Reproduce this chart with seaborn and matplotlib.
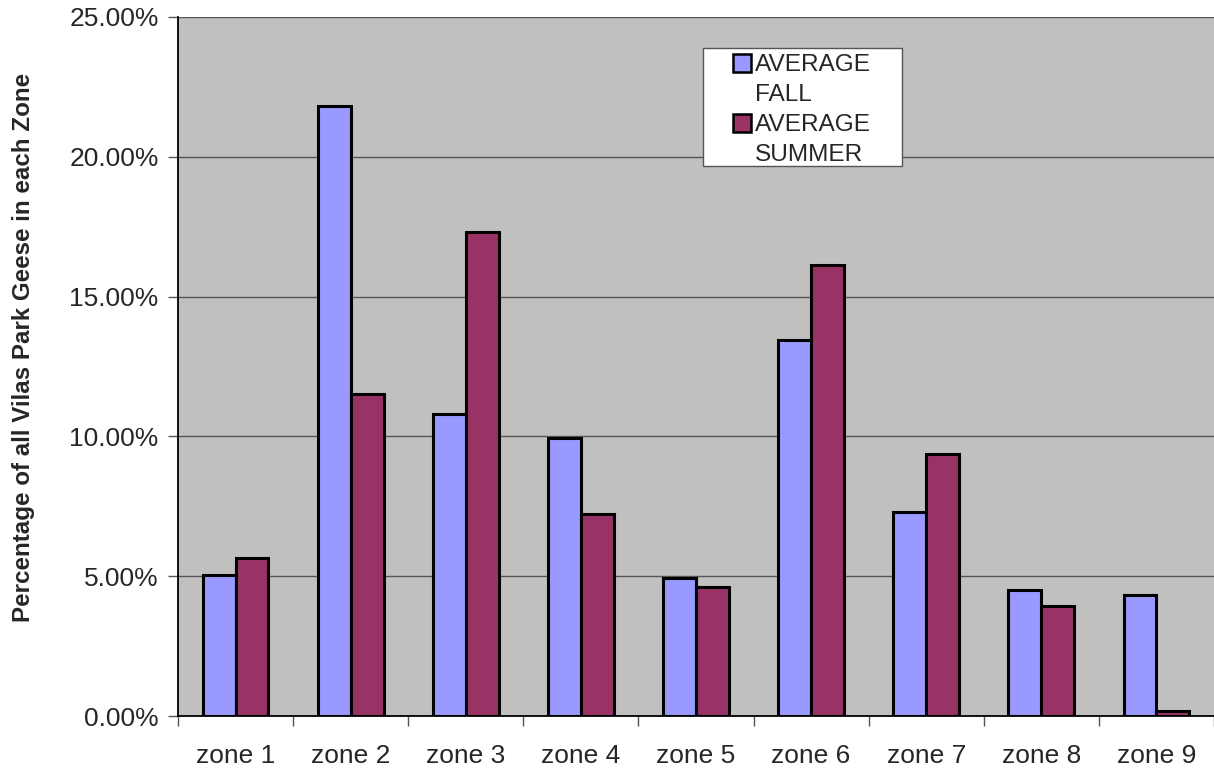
import matplotlib
matplotlib.use("Agg")
import matplotlib.pyplot as plt
import seaborn as sns
import pandas as pd
import numpy as np
from matplotlib.ticker import FuncFormatter, MultipleLocator
from matplotlib.patches import Patch, Rectangle

zones = ["zone 1", "zone 2", "zone 3", "zone 4", "zone 5", "zone 6", "zone 7", "zone 8", "zone 9"]
fall = [5.05, 21.8, 10.8, 9.95, 4.92, 13.43, 7.28, 4.51, 4.31]
summer = [5.65, 11.5, 17.3, 7.23, 4.62, 16.12, 9.36, 3.92, 0.18]
series = ["AVERAGE FALL", "AVERAGE SUMMER"]
colors = ["#9999FF", "#993366"]

df = pd.DataFrame({
    "zone": zones * 2,
    "series": [series[0]] * len(zones) + [series[1]] * len(zones),
    "value": fall + summer,
})

sns.set_theme(style="white")
plt.rcParams["font.family"] = ["Liberation Sans", "DejaVu Sans"]

W, H = 1214, 772
fig = plt.figure(figsize=(W / 100, H / 100), dpi=100)
ax = fig.add_axes([178 / W, (H - 716) / H, (1214 - 178) / W, (716 - 17) / H])
ax.set_facecolor("#C0C0C0")

sns.barplot(data=df, x="zone", y="value", hue="series", palette=colors,
            width=0.5714, edgecolor="black", linewidth=2.2, saturation=1,
            ax=ax, legend=False, zorder=3)

ax.set_ylim(0, 25)
ax.set_xlim(-0.5, len(zones) - 0.5)
ax.yaxis.set_major_locator(MultipleLocator(5))
ax.yaxis.set_major_formatter(FuncFormatter(lambda v, p: f"{v:.2f}%"))
ax.grid(axis="y", color="#555555", linewidth=1, zorder=1)
ax.set_axisbelow(True)

ax.set_xticks(np.arange(-0.5, len(zones) + 0.5, 1), minor=False)
ax.set_xticklabels([])
ax.set_xticks(np.arange(len(zones)), minor=True)
ax.set_xticklabels(zones, minor=True)
ax.tick_params(axis="x", which="major", direction="out", length=7, width=1, color="#555555", bottom=True)
ax.tick_params(axis="x", which="minor", length=0, pad=20, labelsize=19, bottom=True)
ax.tick_params(axis="y", direction="out", length=7, width=1, color="#555555", labelsize=19, pad=7, left=True)

for s in ["top", "right"]:
    ax.spines[s].set_visible(False)
ax.spines["left"].set_color("black")
ax.spines["left"].set_linewidth(1.3)
ax.spines["bottom"].set_color("black")
ax.spines["bottom"].set_linewidth(1.3)

ax.set_xlabel("")
ax.set_ylabel("Percentage of all Vilas Park Geese in each Zone", fontsize=17.4,
              fontweight="bold")
ax.yaxis.set_label_coords((35 - 178) / (1214 - 178), (716 - 347) / (716 - 17))

# legend frame (figure pixels)
fig.patches.append(Rectangle((703 / W, (H - 166) / H), (902 - 703) / W, (166 - 48) / H,
                             transform=fig.transFigure, facecolor="white",
                             edgecolor="#555555", linewidth=1, zorder=4))

blank = Patch(facecolor="none", edgecolor="none")
handles = [Patch(facecolor=colors[0], edgecolor="black", linewidth=1.8), blank,
           Patch(facecolor=colors[1], edgecolor="black", linewidth=1.8), blank]
labels = ["AVERAGE", "FALL", "AVERAGE", "SUMMER"]
leg = fig.legend(handles, labels, loc="upper left",
                 bbox_to_anchor=(733 / W, (H - 54) / H),
                 fontsize=17.6, frameon=False,
                 handlelength=0.75, handleheight=0.75,
                 handletextpad=0.15, borderpad=0, labelspacing=0.3,
                 borderaxespad=0)
leg.set_zorder(6)

fig.savefig("out.png", dpi=100, facecolor="white")
